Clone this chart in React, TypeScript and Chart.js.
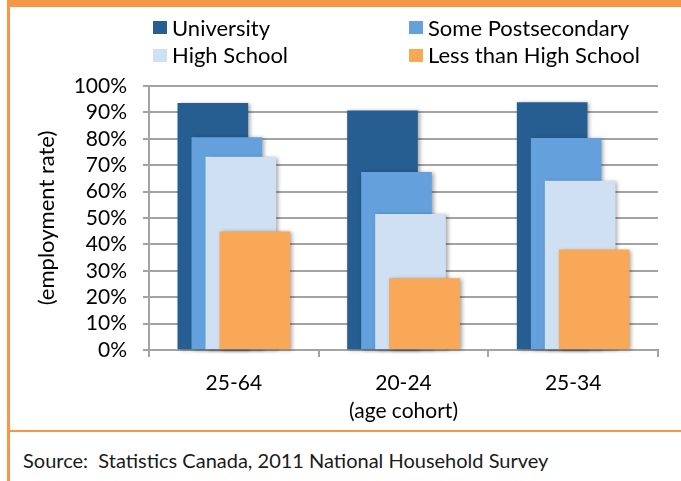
import React, { useEffect, useRef } from 'react';
import { Chart, registerables } from 'chart.js';

Chart.register(...registerables);

// ---- data ----
const categories = ['25-64', '20-24', '25-34'];
const seriesNames = ['University', 'Some Postsecondary', 'High School', 'Less than High School'];
const university = [93.4, 90.6, 93.7];
const somePostsecondary = [80.5, 67.3, 80.2];
const highSchool = [73.1, 51.4, 64.0];
const lessThanHighSchool = [44.8, 27.1, 37.9];
const yMin = 0;
const yMax = 100;
const yStep = 10;
const xTitle = '(age cohort)';
const yTitle = '(employment rate)';
const sourceText = 'Source:  Statistics Canada, 2011 National Household Survey';

// ---- styles ----
const seriesColors = ['#265E91', '#63A0DC', '#CFE0F2', '#F9A857'];
const ORANGE = '#F79646';
const GRID = '#a3a3a3';
const FONT = 'Lato, "Open Sans", sans-serif';
const BAR_SHIFT = 14;

const offsetPlugin = {
  id: 'offsetBars',
  beforeDatasetDraw(chart: any, args: any) {
    const ctx = chart.ctx;
    const n = chart.data.datasets.length;
    ctx.save();
    ctx.translate((args.index - (n - 1) / 2) * BAR_SHIFT, 0);
    ctx.shadowColor = 'rgba(0,0,0,0.35)';
    ctx.shadowBlur = 4;
    ctx.shadowOffsetX = 2;
    ctx.shadowOffsetY = 1;
  },
  afterDatasetDraw(chart: any) {
    chart.ctx.restore();
  },
};

export default function App() {
  const canvasRef = useRef<HTMLCanvasElement | null>(null);

  useEffect(() => {
    if (!canvasRef.current) return;
    Chart.defaults.font.family = FONT;
    Chart.defaults.color = '#000';
    const values = [university, somePostsecondary, highSchool, lessThanHighSchool];
    const chart = new Chart(canvasRef.current, {
      type: 'bar',
      data: {
        labels: categories,
        datasets: seriesNames.map((name, i) => ({
          label: name,
          data: values[i],
          backgroundColor: seriesColors[i],
          borderWidth: 0,
          barThickness: 70,
          grouped: false,
          order: seriesNames.length - i,
          clip: false as any,
        })),
      },
      options: {
        responsive: false,
        animation: false,
        layout: { padding: { left: 0, top: 86, right: 23, bottom: 0 } },
        plugins: {
          legend: { display: false },
          tooltip: { enabled: false },
        },
        scales: {
          x: {
            type: 'category',
            offset: true,
            grid: {
              display: true,
              drawOnChartArea: false,
              offset: true,
              tickLength: 7,
              color: GRID,
              lineWidth: 2,
            },
            border: { display: true, color: GRID, width: 2 },
            ticks: { padding: 14, font: { size: 21 }, color: '#000', maxRotation: 0, autoSkip: false },
            title: {
              display: true,
              text: xTitle,
              font: { size: 21 },
              color: '#000',
              padding: { top: 0, bottom: 6 },
            },
            afterFit: (s: any) => {
              s.height = 80;
            },
          },
          y: {
            min: yMin,
            max: yMax,
            ticks: {
              stepSize: yStep,
              autoSkip: false,
              callback: (v: any) => v + '%',
              padding: 16,
              font: { size: 21 },
              color: '#000',
            },
            grid: { color: GRID, lineWidth: 2, tickLength: 6 },
            border: { display: true, color: GRID, width: 2 },
            title: {
              display: true,
              text: yTitle,
              font: { size: 22 },
              color: '#000',
              padding: { top: 34, bottom: 0 },
            },
            afterFit: (s: any) => {
              s.width = 149;
            },
          },
        },
      },
      plugins: [offsetPlugin],
    });
    return () => chart.destroy();
  }, []);

  const legendPos = [
    { sx: 153, sy: 21, tx: 172, ty: 15 },
    { sx: 409, sy: 21, tx: 428, ty: 15 },
    { sx: 153, sy: 49, tx: 172, ty: 42 },
    { sx: 409, sy: 49, tx: 428, ty: 42 },
  ];

  return (
    <div
      style={{
        position: 'absolute',
        left: 0,
        top: 0,
        width: 681,
        height: 481,
        background: '#fff',
        overflow: 'hidden',
        fontFamily: FONT,
      }}
    >
      <canvas
        ref={canvasRef}
        width={681}
        height={430}
        style={{ position: 'absolute', left: 0, top: 0, width: 681, height: 430 }}
      />
      {seriesNames.map((name, i) => (
        <React.Fragment key={name}>
          <div
            style={{
              position: 'absolute',
              left: legendPos[i].sx,
              top: legendPos[i].sy,
              width: 14,
              height: 13,
              background: seriesColors[i],
            }}
          />
          <div
            style={{
              position: 'absolute',
              left: legendPos[i].tx,
              top: legendPos[i].ty,
              fontSize: 22,
              lineHeight: '26.4px',
              color: '#000',
              whiteSpace: 'nowrap',
            }}
          >
            {name}
          </div>
        </React.Fragment>
      ))}
      <div style={{ position: 'absolute', left: 7, top: 0, width: 674, height: 7, background: ORANGE }} />
      <div style={{ position: 'absolute', left: 7, top: 0, width: 3, height: 481, background: ORANGE }} />
      <div style={{ position: 'absolute', left: 7, top: 430, width: 674, height: 2, background: ORANGE }} />
      <div
        style={{
          position: 'absolute',
          left: 23,
          top: 448,
          fontSize: 20,
          lineHeight: '24px',
          color: '#1a1a1a',
          whiteSpace: 'pre',
        }}
      >
        {sourceText}
      </div>
    </div>
  );
}
